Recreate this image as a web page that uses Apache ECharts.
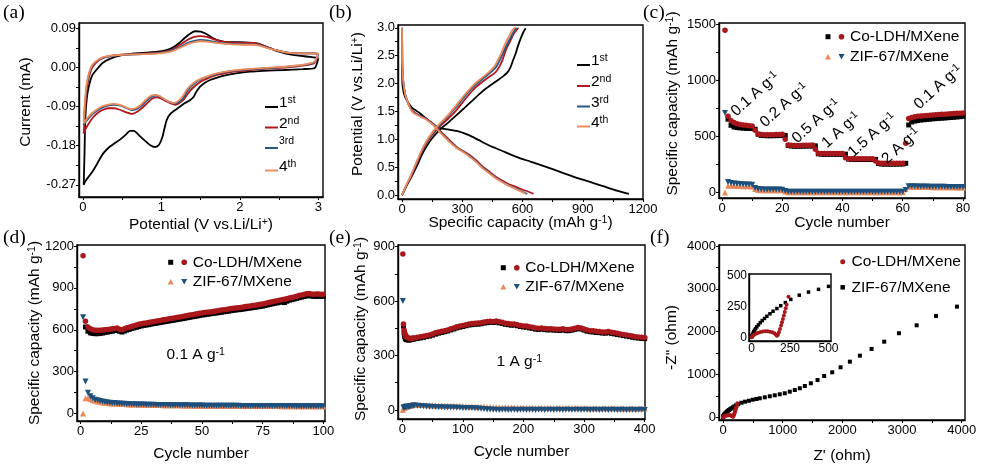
<!DOCTYPE html>
<html><head><meta charset="utf-8">
<script src="https://cdn.jsdelivr.net/npm/echarts@6/dist/echarts.min.js"></script>
<style>html,body{margin:0;padding:0;background:#fff}#c{width:983px;height:465px}</style>
</head><body><div id="c"></div>
<script>
// ---------------- DATA ----------------
// (a) CV curves [potential V, current mA]
const cv1 = [[3.0,0.021],[2.95,-0.002],[2.8,-0.004],[2.56,-0.006],[2.3,-0.008],[2.13,-0.01],[1.95,-0.014],[1.83,-0.018],[1.72,-0.023],[1.62,-0.029],[1.55,-0.036],[1.49,-0.045],[1.44,-0.058],[1.41,-0.068],[1.36,-0.076],[1.3,-0.082],[1.2,-0.095],[1.12,-0.106],[1.07,-0.12],[1.04,-0.14],[1.01,-0.162],[0.97,-0.178],[0.92,-0.183],[0.86,-0.179],[0.8,-0.17],[0.72,-0.157],[0.65,-0.146],[0.6,-0.146],[0.55,-0.154],[0.48,-0.165],[0.4,-0.175],[0.32,-0.186],[0.25,-0.2],[0.18,-0.222],[0.12,-0.24],[0.07,-0.252],[0.03,-0.262],[0.01,-0.27],[0.02,-0.2],[0.03,-0.12],[0.05,-0.07],[0.08,-0.04],[0.12,-0.018],[0.18,-0.004],[0.25,0.01],[0.35,0.02],[0.5,0.028],[0.65,0.032],[0.8,0.034],[0.95,0.036],[1.05,0.039],[1.15,0.046],[1.22,0.055],[1.3,0.068],[1.37,0.078],[1.43,0.083],[1.5,0.082],[1.58,0.076],[1.66,0.067],[1.75,0.061],[1.85,0.058],[2.0,0.058],[2.12,0.057],[2.22,0.055],[2.3,0.05],[2.4,0.043],[2.5,0.036],[2.6,0.031],[2.75,0.027],[2.9,0.024],[3.0,0.021]];
const cv2 = [[3.0,0.03],[2.95,0.01],[2.8,0.004],[2.6,0.0],[2.34,-0.003],[2.1,-0.007],[1.92,-0.01],[1.78,-0.015],[1.66,-0.02],[1.57,-0.027],[1.49,-0.034],[1.42,-0.044],[1.37,-0.053],[1.32,-0.065],[1.28,-0.075],[1.23,-0.082],[1.18,-0.086],[1.12,-0.083],[1.06,-0.078],[1.0,-0.072],[0.94,-0.069],[0.88,-0.072],[0.82,-0.082],[0.75,-0.094],[0.68,-0.103],[0.62,-0.107],[0.56,-0.104],[0.48,-0.098],[0.4,-0.094],[0.32,-0.094],[0.25,-0.098],[0.18,-0.106],[0.12,-0.117],[0.07,-0.13],[0.03,-0.143],[0.01,-0.152],[0.02,-0.12],[0.035,-0.08],[0.05,-0.05],[0.08,-0.02],[0.12,0.0],[0.18,0.013],[0.25,0.021],[0.35,0.026],[0.5,0.029],[0.7,0.031],[0.9,0.033],[1.05,0.036],[1.15,0.042],[1.25,0.053],[1.33,0.063],[1.42,0.07],[1.5,0.072],[1.58,0.07],[1.66,0.065],[1.76,0.06],[1.9,0.057],[2.05,0.056],[2.17,0.056],[2.25,0.053],[2.34,0.047],[2.45,0.04],[2.6,0.034],[2.8,0.032],[2.95,0.032],[3.0,0.03]];
const cv3 = [[3.0,0.031],[2.95,0.012],[2.8,0.005],[2.6,0.001],[2.34,-0.002],[2.1,-0.005],[1.92,-0.008],[1.78,-0.012],[1.66,-0.017],[1.55,-0.024],[1.46,-0.032],[1.39,-0.042],[1.34,-0.052],[1.3,-0.064],[1.26,-0.074],[1.22,-0.08],[1.17,-0.083],[1.11,-0.08],[1.05,-0.075],[0.99,-0.068],[0.93,-0.065],[0.87,-0.068],[0.81,-0.077],[0.74,-0.089],[0.68,-0.096],[0.62,-0.098],[0.56,-0.094],[0.48,-0.088],[0.4,-0.086],[0.32,-0.088],[0.25,-0.092],[0.18,-0.1],[0.12,-0.108],[0.07,-0.118],[0.03,-0.126],[0.01,-0.132],[0.02,-0.1],[0.035,-0.065],[0.05,-0.04],[0.08,-0.014],[0.12,0.004],[0.18,0.015],[0.25,0.022],[0.35,0.026],[0.5,0.029],[0.7,0.03],[0.9,0.032],[1.05,0.035],[1.15,0.04],[1.25,0.048],[1.33,0.056],[1.42,0.061],[1.5,0.063],[1.58,0.062],[1.66,0.059],[1.76,0.056],[1.9,0.054],[2.05,0.053],[2.17,0.053],[2.25,0.051],[2.34,0.046],[2.45,0.04],[2.6,0.034],[2.8,0.032],[2.95,0.032],[3.0,0.031]];
const cv4 = [[3.0,0.032],[2.95,0.013],[2.8,0.006],[2.6,0.002],[2.34,-0.001],[2.1,-0.004],[1.92,-0.007],[1.78,-0.011],[1.66,-0.016],[1.54,-0.024],[1.44,-0.032],[1.37,-0.042],[1.32,-0.052],[1.28,-0.064],[1.24,-0.073],[1.2,-0.079],[1.16,-0.082],[1.1,-0.079],[1.04,-0.073],[0.98,-0.066],[0.92,-0.063],[0.86,-0.066],[0.8,-0.075],[0.73,-0.087],[0.67,-0.094],[0.61,-0.096],[0.55,-0.092],[0.47,-0.086],[0.39,-0.084],[0.31,-0.086],[0.24,-0.09],[0.17,-0.098],[0.11,-0.106],[0.06,-0.116],[0.03,-0.123],[0.01,-0.129],[0.02,-0.095],[0.035,-0.06],[0.05,-0.036],[0.08,-0.011],[0.12,0.006],[0.18,0.016],[0.25,0.023],[0.35,0.027],[0.5,0.029],[0.7,0.03],[0.9,0.031],[1.05,0.034],[1.15,0.038],[1.25,0.046],[1.33,0.053],[1.42,0.058],[1.5,0.06],[1.58,0.059],[1.66,0.057],[1.76,0.055],[1.9,0.053],[2.05,0.052],[2.17,0.052],[2.25,0.05],[2.34,0.045],[2.45,0.04],[2.6,0.034],[2.8,0.032],[2.95,0.032],[3.0,0.032]];
const aXTicks = [0,1,2,3];
const aYTicks = [-0.27,-0.18,-0.09,0,0.09];

// (b) charge/discharge profiles [capacity mAh/g, potential V]
const gcd1Dis = [[0,2.36],[1,2.2],[2,2.0],[6,1.88],[15,1.76],[27,1.68],[40,1.61],[55,1.55],[72,1.51],[95,1.45],[122,1.37],[148,1.29],[171,1.23],[200,1.19],[240,1.17],[286,1.14],[336,1.07],[380,0.99],[435,0.89],[500,0.79],[566,0.69],[640,0.6],[714,0.51],[800,0.4],[879,0.3],[950,0.22],[1010,0.15],[1070,0.08],[1130,0.02]];
const gcd1Chg = [[0,0.0],[20,0.15],[40,0.28],[56,0.39],[80,0.57],[100,0.73],[122,0.87],[150,1.02],[188,1.17],[230,1.3],[270,1.43],[310,1.56],[352,1.7],[385,1.81],[418,1.91],[460,2.02],[500,2.12],[525,2.2],[541,2.3],[553,2.42],[566,2.54],[578,2.68],[591,2.81],[604,2.92],[616,2.99]];
const gcd2Dis = [[0,3.0],[1,2.6],[2,2.3],[6,2.05],[15,1.82],[27,1.68],[40,1.58],[55,1.5],[72,1.46],[95,1.41],[122,1.37],[140,1.32],[155,1.28],[180,1.19],[204,1.1],[235,0.99],[270,0.87],[300,0.8],[336,0.72],[370,0.62],[402,0.51],[435,0.42],[467,0.33],[500,0.26],[530,0.2],[566,0.15],[600,0.1],[630,0.06],[655,0.02]];
const gcd2Chg = [[0,0.0],[20,0.15],[40,0.3],[56,0.42],[80,0.62],[100,0.78],[122,0.93],[150,1.08],[188,1.23],[230,1.37],[270,1.52],[310,1.7],[352,1.88],[390,2.0],[434,2.12],[465,2.2],[484,2.3],[500,2.42],[517,2.6],[537,2.75],[558,2.9],[580,3.0]];
const gcd3Dis = [[0,3.0],[1,2.6],[2,2.3],[6,2.05],[15,1.82],[27,1.68],[40,1.57],[55,1.49],[72,1.45],[95,1.41],[122,1.36],[140,1.31],[155,1.27],[180,1.17],[204,1.08],[235,0.97],[270,0.86],[300,0.79],[336,0.7],[370,0.6],[402,0.49],[435,0.4],[467,0.31],[500,0.24],[530,0.18],[566,0.12],[600,0.06],[624,0.02]];
const gcd3Chg = [[0,0],[20,0.16],[40,0.31],[56,0.44],[80,0.64],[100,0.8],[122,0.95],[150,1.1],[188,1.26],[230,1.42],[270,1.58],[310,1.76],[352,1.93],[390,2.05],[434,2.18],[465,2.28],[484,2.4],[500,2.52],[517,2.66],[537,2.8],[556,2.93],[570,3.0]];
const gcd4Dis = [[0,3.0],[1,2.6],[2,2.3],[6,2.05],[15,1.82],[27,1.68],[40,1.56],[55,1.48],[72,1.44],[95,1.4],[122,1.35],[140,1.3],[155,1.26],[180,1.16],[204,1.07],[235,0.96],[270,0.85],[300,0.78],[336,0.69],[370,0.59],[402,0.48],[435,0.39],[467,0.3],[500,0.23],[530,0.17],[566,0.11],[600,0.05],[618,0.02]];
const gcd4Chg = [[0,0],[20,0.17],[40,0.32],[56,0.45],[80,0.66],[100,0.82],[122,0.97],[150,1.12],[188,1.28],[230,1.44],[270,1.61],[310,1.79],[352,1.96],[390,2.08],[434,2.21],[462,2.32],[480,2.44],[496,2.56],[512,2.7],[530,2.83],[548,2.95],[562,3.0]];
const bXTicks = [0,300,600,900,1200];
const bYTicks = [0,0.5,1.0,1.5,2.0,2.5,3.0];

// (c) rate performance, capacity per cycle (cycle 1..80)
const cCoDis = [1450,680,640,625,615,608,603,600,597,594,555,522,518,516,515,515,516,517,518,520,475,425,422,420,420,420,421,421,422,423,385,350,348,347,347,347,347,347,347,347,310,302,300,300,300,300,300,300,300,300,280,264,261,260,260,260,260,260,261,261,440,662,670,676,680,683,686,688,690,692,694,696,698,700,702,704,706,707,709,710];
const cCoChg = [null,655,600,585,580,577,575,573,572,571,565,520,510,508,507,507,507,508,508,509,510,420,415,413,413,413,414,414,415,415,416,345,342,341,341,341,341,341,341,341,342,298,295,294,294,294,294,294,294,294,295,258,254,253,253,253,253,253,254,254,260,603,630,638,643,647,650,653,655,658,660,662,664,666,668,670,672,675,677,680];
const cZifDis = [710,92,85,80,77,75,73,71,70,68,40,30,28,27,26,26,25,25,25,24,12,5,5,5,5,5,5,5,5,5,5,5,5,5,5,5,5,5,5,5,5,5,5,5,5,5,5,5,5,5,5,5,5,5,5,5,5,5,5,5,22,55,54,54,53,53,52,52,51,51,51,50,50,50,49,49,49,48,48,48];
const cZifChg = [0,60,62,60,58,57,56,55,54,53,30,22,20,20,20,20,20,20,20,20,8,2,2,2,2,2,2,2,2,2,2,2,2,2,2,2,2,2,2,2,2,2,2,2,2,2,2,2,2,2,2,2,2,2,2,2,2,2,2,2,30,50,50,49,49,49,48,48,48,47,47,47,47,46,46,46,46,45,45,45];
const cRates = ['0.1 A g', '0.2 A g', '0.5 A g', '1 A g', '1.5 A g', '2 A g', '0.1 A g'];
const cXTicks = [0,20,40,60,80];
const cYTicks = [0,500,1000,1500];

// (d) cycling at 0.1 A/g (cycle 1..100)
const dCoDis = [1130,662,620,607,600,597,596,597,598,600,602,604,607,610,612,604,601,608,614,619,624,629,634,639,643,646,649,652,655,658,661,664,667,671,674,677,680,683,686,689,692,695,698,702,705,708,711,714,718,721,723,725,728,730,733,735,738,741,743,746,749,752,754,756,758,760,763,766,768,771,773,776,779,782,785,789,793,797,800,804,808,812,815,819,823,827,831,835,840,845,849,853,858,860,857,855,856,856,855,855];
const dCoChg = [null,620,590,578,574,572,572,574,577,580,584,587,590,594,597,590,584,591,598,603,609,614,618,623,628,632,634,637,641,644,647,650,653,656,659,662,665,668,671,674,677,680,683,687,690,693,696,699,703,706,708,711,713,716,718,721,723,726,729,731,734,737,740,742,744,746,749,751,754,756,759,762,764,767,770,774,778,782,786,790,793,797,801,795,805,812,816,820,825,830,834,838,842,845,842,840,840,840,840,840];
const dZifDis = [690,230,150,125,110,100,95,90,86,83,80,78,76,75,73,72,71,70,69,68,67,67,66,66,65,65,64,64,63,63,62,62,62,61,61,61,60,60,60,60,59,59,59,59,58,58,58,58,58,58,57,57,57,57,57,57,57,56,56,56,56,56,56,56,56,55,55,55,55,55,55,55,55,55,55,55,54,54,54,54,54,54,54,54,54,54,54,54,53,53,53,53,53,53,53,53,53,53,53,53];
const dZifChg = [0,110,112,105,98,92,87,83,80,78,76,74,73,72,71,70,69,68,67,66,66,65,65,64,64,63,63,62,62,62,61,61,61,60,60,60,60,59,59,59,59,58,58,58,58,58,57,57,57,57,57,57,56,56,56,56,56,56,56,56,56,55,55,55,55,55,55,55,55,55,55,54,54,54,54,54,54,54,54,54,54,54,53,53,53,53,53,53,53,53,53,53,53,53,53,52,52,52,52,52];
const dXTicks = [0,25,50,75,100];
const dYTicks = [0,300,600,900,1200];

// (e) cycling at 1 A/g (sampled cycles)
const eCycles = [1,2,3,4,5,6,7,8,10,12,14,16,18,20,25,30,35,40,45,50,55,60,65,70,75,80,85,90,95,100,105,110,115,120,125,130,135,140,145,150,155,160,165,170,175,180,185,190,195,200,205,210,215,220,225,230,235,240,245,250,255,260,265,270,275,280,285,290,295,300,305,310,315,320,325,330,335,340,345,350,355,360,365,370,375,380,385,390,395,400];
const eCoDis = [860,474,441,425,414,408,403,400,396,394,394,395,396,397,400,403,406,410,413,418,425,430,433,437,441,447,452,458,462,466,470,474,476,478,479,481,485,487,489,488,490,486,483,478,476,473,474,470,466,463,462,458,456,451,450,452,449,447,448,446,445,444,447,443,443,446,450,454,452,446,440,437,436,433,432,430,429,432,428,425,422,419,416,413,410,407,404,402,400,399];
const eCoChg = [null,462,425,405,395,390,388,387,386,386,387,388,390,392,394,397,400,404,407,412,418,423,427,431,435,441,446,452,456,460,464,468,470,472,473,475,479,481,483,482,484,480,477,472,470,467,468,464,460,457,456,452,450,445,444,446,443,441,442,440,439,438,441,437,437,440,444,448,446,440,434,431,430,427,426,424,423,426,422,419,416,413,410,407,404,401,398,396,394,393];
const eZifDis = [600,12,14,15,16,17,17,18,18,19,20,22,24,25,23,21,20,19,18,17,16,15,15,14,14,13,13,12,12,11,11,10,10,9,8,7,5,3,2,1,1,0,1,1,0,1,1,0,1,1,0,1,1,0,1,1,0,1,1,0,1,1,0,1,1,0,1,1,0,1,1,0,1,1,0,1,1,0,1,1,0,1,1,0,1,1,0,1,1,0];
const eZifChg = [0,10,12,14,16,18,19,20,22,24,25,26,27,28,28,27,27,26,26,25,25,24,24,23,23,22,22,21,21,20,20,19,19,18,18,17,17,16,16,15,15,15,14,14,14,13,13,13,12,12,12,12,12,11,11,11,11,11,11,10,10,10,10,10,10,10,10,10,10,10,9,9,9,9,9,9,9,9,9,9,9,8,8,8,8,8,8,8,8,8];
const eXTicks = [0,100,200,300,400];
const eYTicks = [0,300,600,900];

// (f) Nyquist plots [Z', -Z'']
const fCo = [[2,0],[5,8],[11,15],[20,22],[33,30],[45,37],[60,42],[75,46],[90,48],[105,48],[120,45],[135,40],[148,32],[158,22],[165,13],[172,20],[178,40],[185,67],[192,95],[198,121],[204,148],[210,175],[216,205],[222,235],[228,262],[240,328]];
const fZif = [[0,0],[3,10],[6,20],[10,32],[15,45],[20,57],[27,70],[35,85],[45,100],[57,118],[70,135],[85,152],[100,170],[120,190],[140,210],[165,232],[190,255],[220,280],[255,306],[310,340],[370,365],[435,387],[500,411],[560,428],[616,444],[700,467],[784,491],[867,514],[951,537],[1035,561],[1119,598],[1203,638],[1287,678],[1371,731],[1472,794],[1584,871],[1695,965],[1830,1051],[1970,1168],[2126,1299],[2294,1439],[2490,1596],[2701,1766],[2948,1963],[3245,2148],[3570,2366],[3920,2584]];
const fXTicks = [0,1000,2000,3000,4000];
const fYTicks = [0,1000,2000,3000,4000];
const insetTicks = [0,250,500];

// ---------------- STYLE / BUILD ----------------
const FONT = '"Liberation Sans", Arial, Helvetica, sans-serif';
const SERIF = '"Liberation Serif", "Times New Roman", serif';
const C_BLACK = '#000000', C_RED = '#a8171b', C_BLUE = '#1d4f7c', C_ORANGE = '#e8895a';
const L_RED = '#b3161d', L_BLUE = '#245a8a', L_ORANGE = '#ec8a5a';
const NFS = 15.5;

const richName = {
  n: {fontSize: NFS, fontFamily: FONT, color: '#000'},
  s: {fontSize: 10.5, fontFamily: FONT, color: '#000', verticalAlign: 'top'}
};
function withMids(t){ const r=t.slice(); for(let i=0;i<t.length-1;i++) r.push((t[i]+t[i+1])/2); return r; }
function axis(gi, min, max, ticks, fmt, name, gap, o){
  o = o || {};
  return {
    type:'value', gridIndex: gi, min: min, max: max, scale: true,
    axisLine: {show: true, onZero: false, lineStyle: {color: '#000', width: 1.4}},
    axisTick: {show: o.noTick ? false : true, inside: false, length: 3, customValues: withMids(ticks), lineStyle: {color:'#000', width: 1}},
    minorTick: {show: false},
    axisLabel: {show: true, customValues: ticks, formatter: fmt, color: '#000', fontSize: o.fs || 13, fontFamily: FONT, margin: o.margin || 4},
    splitLine: {show: false},
    name: name || '', nameLocation: 'middle', nameGap: gap || 20, nameMoveOverlap: false,
    nameTextStyle: {fontSize: NFS, fontFamily: FONT, color: '#000', rich: richName, padding: o.pad || 0}
  };
}
const f0 = v => String(Math.round(v));
const f1 = v => v.toFixed(1);
const f2 = v => v.toFixed(2);

const grids = [
  {left: 79, top: 23, width: 244, height: 174},
  {left: 398, top: 25, width: 245, height: 174},
  {left: 719, top: 23, width: 246, height: 175},
  {left: 77, top: 245, width: 248, height: 176},
  {left: 398, top: 245, width: 247, height: 174},
  {left: 719, top: 245, width: 246, height: 175},
  {left: 749, top: 274, width: 82, height: 67}
].map((g, i) => Object.assign({show: true, borderColor: '#000', borderWidth: 1.4, backgroundColor: i === 6 ? '#fff' : 'transparent', containLabel: false, outerBoundsMode: 'none'}, g));

const nmPot = '{n|Potential (V vs.Li/Li}{s|+}{n|)}';
const nmCap = '{n|Specific capacity (mAh g}{s|-1}{n|)}';
const xAxes = [
  axis(0, -0.05, 3.06, aXTicks, f0, nmPot, 20),
  axis(1, -20, 1200, bXTicks, f0, nmCap, 16),
  axis(2, -1, 80.7, cXTicks, f0, 'Cycle number', 17),
  axis(3, -1.5, 100.7, dXTicks, f0, 'Cycle number', 25),
  axis(4, -7, 400.5, eXTicks, f0, 'Cycle number', 25),
  axis(5, -67, 4055, fXTicks, f0, "Z' (ohm)", 28),
  axis(6, -16, 516, insetTicks, f0, '', 0, {noTick: true, fs: 12, margin: 2})
];
const yAxes = [
  axis(0, -0.298, 0.102, aYTicks, f2, 'Current (mA)', 45, {margin: 3, pad: [0, 0, 0, 16]}),
  axis(1, -0.07, 3.05, bYTicks, f1, nmPot, 32, {margin: 3, pad: [0, 0, 0, 16]}),
  axis(2, -50, 1515, cYTicks, f0, nmCap, 38, {margin: 3, pad: [0, 0, 0, 14]}),
  axis(3, -53, 1207, dYTicks, f0, nmCap, 34, {margin: 3}),
  axis(4, -50, 909, eYTicks, f0, nmCap, 29, {margin: 3, pad: [0, 0, 0, 6]}),
  axis(5, -63, 4023, fYTicks, f0, '-Z" (ohm)', 39, {margin: 3, pad: [0, 10, 0, 0]}),
  axis(6, -30, 511, insetTicks, f0, '', 0, {noTick: true, fs: 12, margin: 2})
];

function line(gi, data, color){
  return {type: 'line', xAxisIndex: gi, yAxisIndex: gi, data: data, symbol: 'none', showSymbol: false, smooth: 0.25, lineStyle: {color: color, width: 1.8}, silent: true, z: 3};
}
function seqPairs(vals){ const out=[]; vals.forEach((v,i)=>{ if(v!=null) out.push([i+1, v]); }); return out; }
function xyPairs(xs, vals){ const out=[]; vals.forEach((v,i)=>{ if(v!=null) out.push([xs[i], v]); }); return out; }
function sc(gi, data, symbol, size, color, rot, z){
  return {type: 'scatter', xAxisIndex: gi, yAxisIndex: gi, data: data, symbol: symbol, symbolSize: size, symbolRotate: rot || 0, itemStyle: {color: color, opacity: 1}, silent: true, z: z || 3};
}

const series = [
  line(0, cv1, C_BLACK), line(0, cv2, L_RED), line(0, cv3, L_BLUE), line(0, cv4, L_ORANGE),
  line(1, gcd1Dis, C_BLACK), line(1, gcd1Chg, C_BLACK),
  line(1, gcd2Dis, L_RED), line(1, gcd2Chg, L_RED),
  line(1, gcd3Dis, L_BLUE), line(1, gcd3Chg, L_BLUE),
  line(1, gcd4Dis, L_ORANGE), line(1, gcd4Chg, L_ORANGE),
  sc(2, seqPairs(cCoChg), 'rect', 5, C_BLACK),
  sc(2, seqPairs(cCoDis), 'circle', 5.5, C_RED),
  sc(2, seqPairs(cZifChg), 'triangle', 6, C_ORANGE),
  sc(2, seqPairs(cZifDis), 'triangle', 6, C_BLUE, 180),
  sc(3, seqPairs(dCoChg), 'rect', 5, C_BLACK),
  sc(3, seqPairs(dCoDis), 'circle', 5.5, C_RED),
  sc(3, seqPairs(dZifChg), 'triangle', 6, C_ORANGE),
  sc(3, seqPairs(dZifDis), 'triangle', 6, C_BLUE, 180),
  sc(4, xyPairs(eCycles, eCoChg), 'rect', 5, C_BLACK),
  sc(4, xyPairs(eCycles, eCoDis), 'circle', 5.5, C_RED),
  sc(4, xyPairs(eCycles, eZifChg), 'triangle', 6, C_ORANGE),
  sc(4, xyPairs(eCycles, eZifDis), 'triangle', 6, C_BLUE, 180),
  sc(5, fZif, 'rect', 4, C_BLACK),
  sc(5, fCo, 'circle', 4, C_RED),
  sc(6, fZif, 'rect', 3.5, C_BLACK, 0, 5),
  sc(6, fCo, 'circle', 4, C_RED, 0, 5)
];

// ---------------- GRAPHIC (panel tags, legends, notes) ----------------
const G = [];
function T(x, y, text, o){
  o = o || {};
  const fs = o.fs || NFS;
  G.push({type: 'text', x: x, y: y, rotation: o.rot || 0, silent: true, z: 10,
    style: {text: text, fill: '#000', font: fs + 'px ' + (o.ff || FONT),
      textAlign: o.align || 'left', align: o.align || 'left', textVerticalAlign: 'middle', verticalAlign: 'middle',
      rich: {
        n: {fontSize: fs, fontFamily: FONT, fill: '#000', color: '#000'},
        s: {fontSize: 10.5, fontFamily: FONT, fill: '#000', color: '#000', verticalAlign: 'top'}
      }}});
}
function LL(x1, x2, y, color){ G.push({type: 'line', silent: true, z: 10, shape: {x1: x1, y1: y, x2: x2, y2: y}, style: {stroke: color, lineWidth: 2}}); }
function SQ(cx, cy, s, color){ G.push({type: 'rect', silent: true, z: 10, shape: {x: cx - s/2, y: cy - s/2, width: s, height: s}, style: {fill: color}}); }
function CI(cx, cy, r, color){ G.push({type: 'circle', silent: true, z: 10, shape: {cx: cx, cy: cy, r: r}, style: {fill: color}}); }
function TR(cx, cy, s, color, down){
  const h = s * 0.9, d = down ? -1 : 1;
  G.push({type: 'polygon', silent: true, z: 10, shape: {points: [[cx - s/2, cy + d*h/2], [cx + s/2, cy + d*h/2], [cx, cy - d*h/2]]}, style: {fill: color}});
}
// panel tags
[['(a)', 3, 13], ['(b)', 329, 13], ['(c)', 643, 13], ['(d)', 3, 238], ['(e)', 329, 238], ['(f)', 650, 238]].forEach(p => T(p[1], p[2], p[0], {fs: 19.5, ff: SERIF}));
// (a) legend
const aLeg = [[107, C_BLACK, '{n|1}{s|st}'], [127.5, L_RED, '{n|2}{s|nd}'], [148, L_BLUE, '{s|3rd}'], [170.5, L_ORANGE, '{n|4}{s|th}']];
aLeg.forEach((r, i) => { LL(265, 278, r[0], r[1]); T(279, r[0] - (i === 2 ? 7 : 4), r[2]); });
// (b) legend
const bLeg = [[65, C_BLACK, '{n|1}{s|st}'], [86, L_RED, '{n|2}{s|nd}'], [106.5, L_BLUE, '{n|3}{s|rd}'], [126.5, L_ORANGE, '{n|4}{s|th}']];
bLeg.forEach(r => { LL(577, 590, r[0], r[1]); T(591, r[0] - 4, r[2]); });
// (c)(d)(e) legends
[[828, 36.7, 56.7], [170.7, 262.3, 281.7], [503.3, 267.7, 286.7]].forEach(p => {
  SQ(p[0], p[1], 5, C_BLACK); CI(p[0] + 13.5, p[1], 2.8, C_RED); T(p[0] + 22, p[1], 'Co-LDH/MXene');
  TR(p[0], p[2], 6, C_ORANGE, false); TR(p[0] + 13.5, p[2], 6, C_BLUE, true); T(p[0] + 22, p[2], 'ZIF-67/MXene');
});
// (f) legend
CI(842.7, 261.7, 2.5, C_RED); T(851.5, 261.7, 'Co-LDH/MXene');
SQ(842.7, 287.3, 4.5, C_BLACK); T(851.5, 287.3, 'ZIF-67/MXene');
// (c) current density notes
const cNotePos = [[755, 94], [784, 105], [816, 121], [841, 130], [872, 135], [901, 146], [938, 87]];
cRates.forEach((t, i) => T(cNotePos[i][0], cNotePos[i][1], '{n|' + t + '}{s|-1}', {rot: 42 * Math.PI / 180, align: 'center'}));
// (d)(e) notes
T(166.5, 355, '{n|0.1 A g}{s|-1}');
T(496.5, 361.5, '{n|1 A g}{s|-1}');

const chart = echarts.init(document.getElementById('c'), null, {renderer: 'canvas'});
chart.setOption({
  animation: false,
  backgroundColor: '#fff',
  textStyle: {fontFamily: FONT},
  grid: grids, xAxis: xAxes, yAxis: yAxes, series: series, graphic: G
});
</script></body></html>
